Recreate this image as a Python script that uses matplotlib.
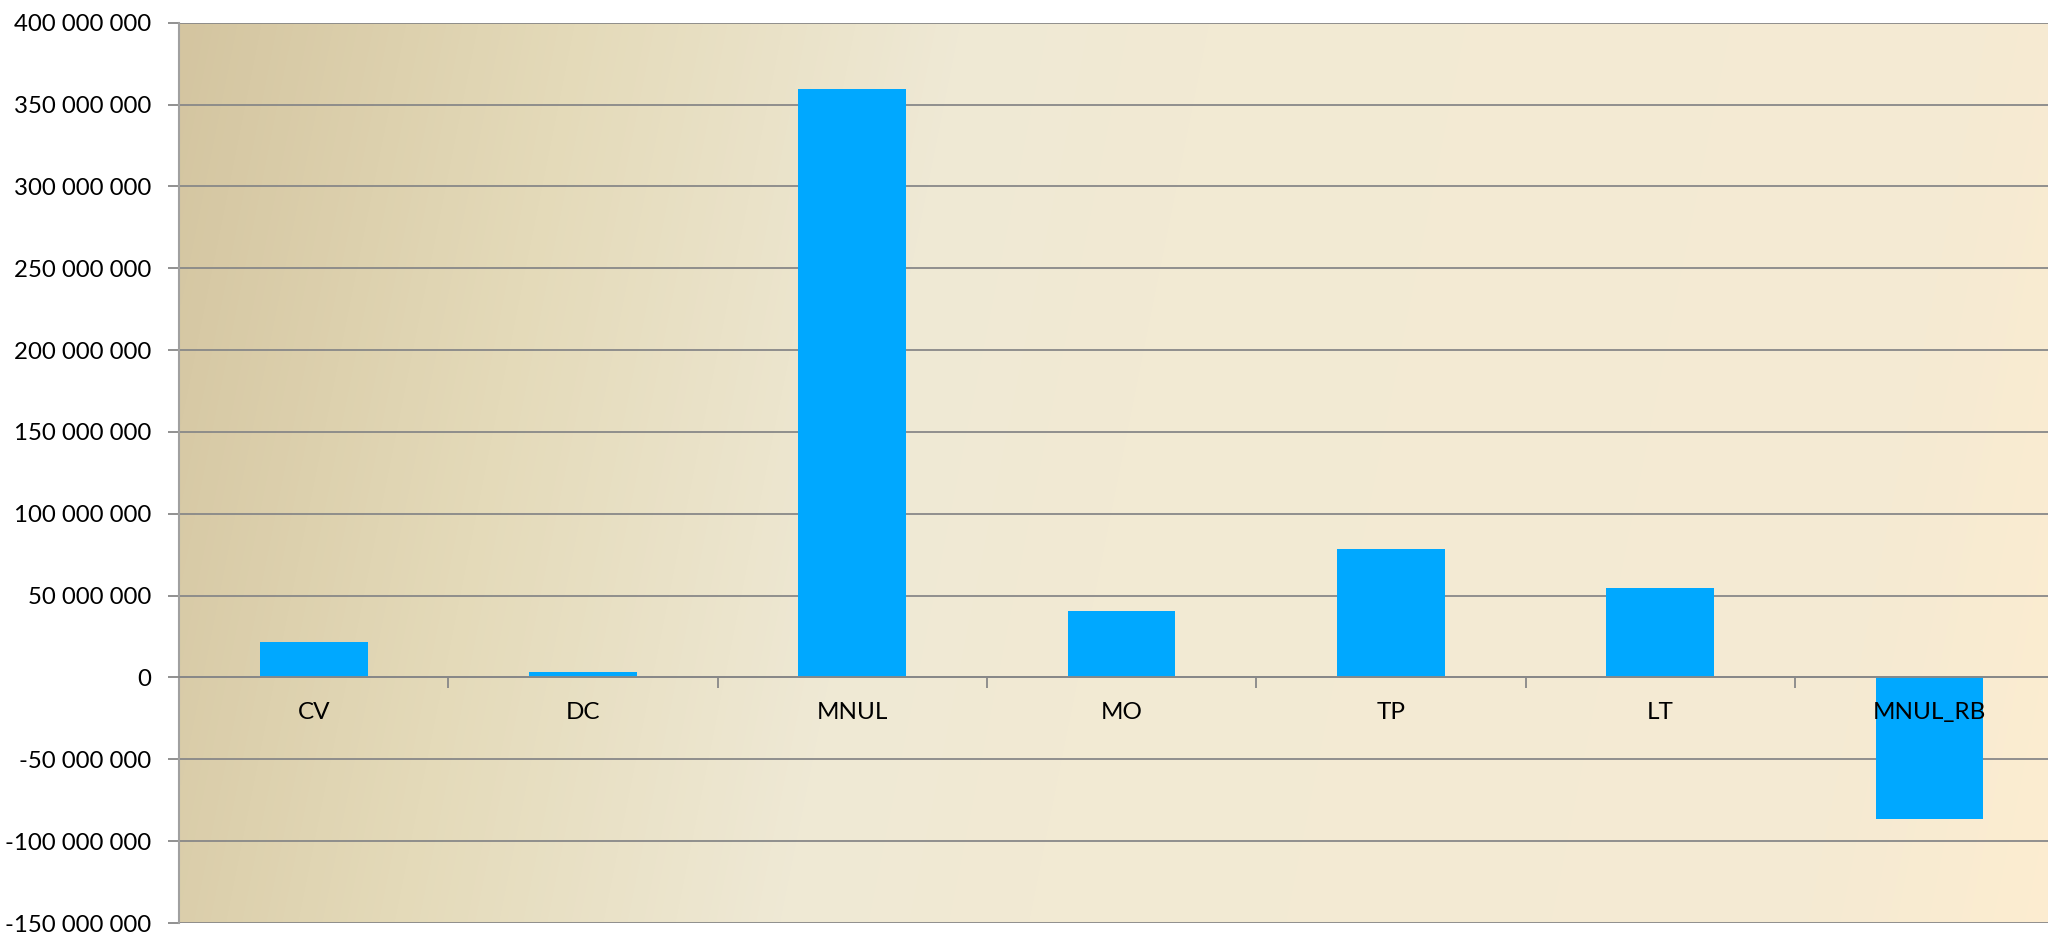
import matplotlib
matplotlib.use("Agg")
import matplotlib.pyplot as plt
import numpy as np
from matplotlib.colors import LinearSegmentedColormap
from matplotlib.ticker import FixedLocator, FuncFormatter

categories = ["CV", "DC", "MNUL", "MO", "TP", "LT", "MNUL_RB"]
values = [21_500_000, 3_600_000, 359_500_000, 40_300_000, 78_400_000, 54_500_000, -86_300_000]
y_ticks = list(range(-150_000_000, 400_000_001, 50_000_000))

plt.rcParams['font.family'] = ['Lato', 'DejaVu Sans']

W, H = 2048, 935
fig = plt.figure(figsize=(W / 100, H / 100), dpi=100)
fig.patch.set_facecolor("white")

# plot area runs a little past the right edge of the picture (cropped chart)
left, right = 179, 179 + 7 * 269.3
top, bottom = 22.7, 923
ax = fig.add_axes([left / W, 1 - bottom / H, (right - left) / W, (bottom - top) / H])

# parchment-like background gradient, slanted bands
cmap = LinearSegmentedColormap.from_list("bg", [
    (0.00, "#D4C5A0"),
    (0.19, "#E4DAB9"),
    (0.38, "#EFE9D5"),
    (0.50, "#F2EAD3"),
    (0.88, "#F5EAD3"),
    (1.00, "#FDEDD0"),
])
gx = np.linspace(0, right - left, 400)
gy = np.linspace(0, bottom - top, 200)
GX, GY = np.meshgrid(gx, gy)
t = (GX + 0.2 * GY) / 2060.0
ax.imshow(t, cmap=cmap, vmin=0, vmax=1, aspect="auto", origin="upper",
          extent=(-0.5, 6.5, -150_000_000, 400_000_000), zorder=0, interpolation="bilinear")

x = np.arange(len(categories))
ax.bar(x, values, width=0.4, color="#00A8FF", zorder=2)

ax.set_xlim(-0.5, 6.5)
ax.set_ylim(-150_000_000, 400_000_000)
ax.set_axisbelow(True)

ax.yaxis.set_major_locator(FixedLocator(y_ticks))
ax.yaxis.set_major_formatter(FuncFormatter(lambda v, p: f"{v:,.0f}".replace(",", " ")))
ax.grid(axis="y", color="#888888", linewidth=1.3, zorder=1)
ax.tick_params(axis="y", length=8, width=1.3, color="#888888", pad=12, labelsize=17.3)

# category axis crosses at zero, ticks between categories
ax.spines["bottom"].set_position(("data", 0))
ax.spines["bottom"].set_color("#888888")
ax.spines["bottom"].set_linewidth(1.3)
ax.xaxis.set_major_locator(FixedLocator(np.arange(0.5, 6.5, 1.0)))
ax.tick_params(axis="x", length=8, width=1.3, color="#888888", labelbottom=False)

for s in ["top", "right"]:
    ax.spines[s].set_visible(False)
ax.spines["left"].set_color("#A0A0A0")
ax.spines["left"].set_linewidth(1.5)

for xi, name in zip(x, categories):
    ax.annotate(name, (xi, 0), xytext=(0, -25.5), textcoords="offset points",
                ha="center", va="center", fontsize=17.5, color="black", zorder=5)

fig.savefig("out.png", dpi=100)
